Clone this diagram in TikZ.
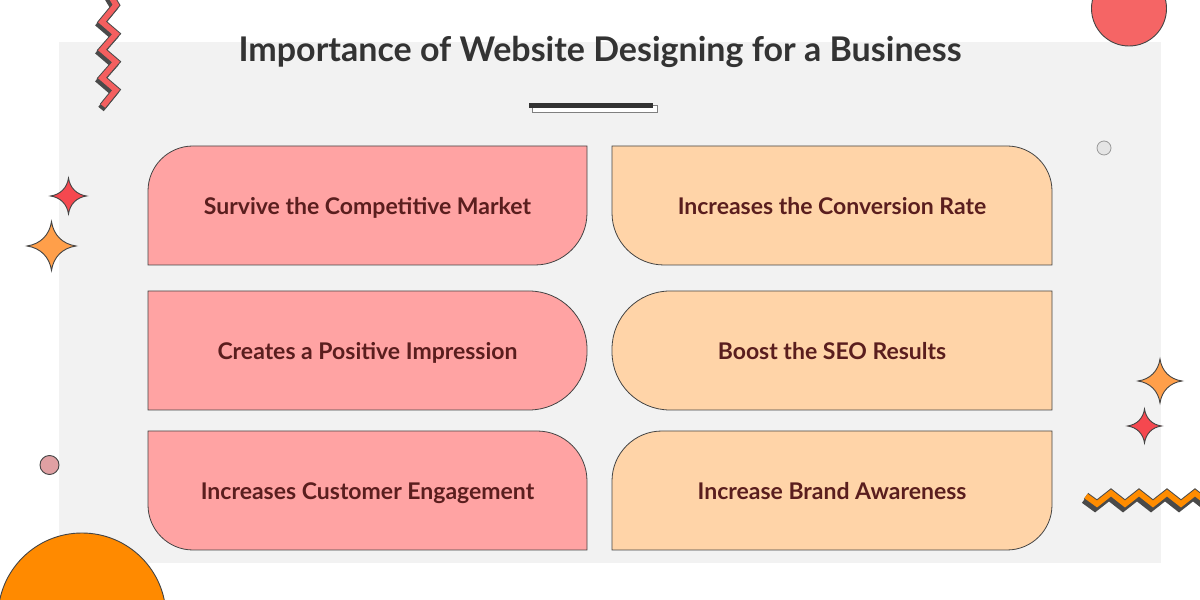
\documentclass[tikz,border=0pt]{standalone}
\usepackage{fontspec}
\setmainfont{Lato}
\definecolor{panel}{HTML}{F2F2F2}
\definecolor{pinkc}{HTML}{FFA3A3}
\definecolor{peachc}{HTML}{FFD4A8}
\definecolor{edge}{HTML}{444444}
\definecolor{txt}{HTML}{5A1E1E}
\definecolor{titlec}{HTML}{333333}
\definecolor{redz}{HTML}{F45F5F}
\definecolor{orz}{HTML}{FF8C00}
\definecolor{shad}{HTML}{4A4A4A}
\definecolor{starred}{HTML}{F5484F}
\definecolor{starorange}{HTML}{FF9F4A}
\definecolor{topcirc}{HTML}{F56565}
\definecolor{bigorange}{HTML}{FF8A00}
\definecolor{smallpink}{HTML}{E0A0A3}
\newcommand{\cardbox}[9]{%
  \draw[cardline,fill=#9] (#1+#5,#4) -- (#2-#6,#4)
    arc[start angle=90,end angle=0,radius=#6 pt] -- (#2,#3+#7)
    arc[start angle=0,end angle=-90,radius=#7 pt] -- (#1+#8,#3)
    arc[start angle=-90,end angle=-180,radius=#8 pt] -- (#1,#4-#5)
    arc[start angle=180,end angle=90,radius=#5 pt] -- cycle;}
\newcommand{\sparkle}[4]{%
  \draw[edge,line width=0.9pt,fill=#4] (#1,#2+#3)
    .. controls (#1+0.08*#3,#2+0.45*#3) and (#1+0.45*#3,#2+0.08*#3) .. (#1+#3,#2)
    .. controls (#1+0.45*#3,#2-0.08*#3) and (#1+0.08*#3,#2-0.45*#3) .. (#1,#2-#3)
    .. controls (#1-0.08*#3,#2-0.45*#3) and (#1-0.45*#3,#2-0.08*#3) .. (#1-#3,#2)
    .. controls (#1-0.45*#3,#2+0.08*#3) and (#1-0.08*#3,#2+0.45*#3) .. cycle;}
\begin{document}
\begin{tikzpicture}[x=1pt,y=1pt,
  cardline/.style={draw=edge,line width=0.8pt},
  cardtext/.style={text=txt,font=\fontsize{23}{27}\selectfont\bfseries,inner sep=0pt,anchor=base},
  zig/.style={line width=6pt,line join=miter,miter limit=10}]
\useasboundingbox (0,0) rectangle (1200,600);
\clip (0,0) rectangle (1200,600);
\fill[white] (0,0) rectangle (1200,600);
% panel
\fill[panel] (59,37) rectangle (1161,558);
% top right circle
\draw[edge,line width=0.9pt,fill=topcirc] (1129,591.5) circle[radius=37.5pt];
% small circles
\draw[draw=black!40,line width=0.8pt,fill=black!10] (1104,452) circle[radius=7pt];
\draw[edge,line width=0.9pt,fill=smallpink] (49.5,135) circle[radius=9.5pt];
% big orange circle
\draw[edge,line width=0.9pt,fill=bigorange] (82,-17) circle[radius=84pt];
% left zigzag
\draw[zig,shad,line width=7pt] ([shift={(-2,-3)}]107,610) -- ([shift={(-2,-3)}]116,595) -- ([shift={(-2,-3)}]102,578) -- ([shift={(-2,-3)}]116,566) -- ([shift={(-2,-3)}]102,550) -- ([shift={(-2,-3)}]116,538) -- ([shift={(-2,-3)}]102,522) -- ([shift={(-2,-3)}]116,510) -- ([shift={(-2,-3)}]103,494);
\draw[zig,shad,line width=7.5pt] (107,610) -- (116,595) -- (102,578) -- (116,566) -- (102,550) -- (116,538) -- (102,522) -- (116,510) -- (103,494);
\draw[zig,redz,line width=5.5pt] (107,610) -- (116,595) -- (102,578) -- (116,566) -- (102,550) -- (116,538) -- (102,522) -- (116,510) -- (103,494);
% right zigzag
\draw[zig,shad,line width=7pt] ([shift={(-2,-4)}]1086,104) -- ([shift={(-2,-4)}]1097,96) -- ([shift={(-2,-4)}]1111,107) -- ([shift={(-2,-4)}]1125,96) -- ([shift={(-2,-4)}]1139,107) -- ([shift={(-2,-4)}]1153,96) -- ([shift={(-2,-4)}]1167,107) -- ([shift={(-2,-4)}]1181,96) -- ([shift={(-2,-4)}]1195,107) -- ([shift={(-2,-4)}]1209,96);
\draw[zig,shad,line width=7.5pt] (1086,104) -- (1097,96) -- (1111,107) -- (1125,96) -- (1139,107) -- (1153,96) -- (1167,107) -- (1181,96) -- (1195,107) -- (1209,96);
\draw[zig,orz,line width=5.5pt] (1086,104) -- (1097,96) -- (1111,107) -- (1125,96) -- (1139,107) -- (1153,96) -- (1167,107) -- (1181,96) -- (1195,107) -- (1209,96);
% sparkles
\sparkle{68.5}{404}{18}{starred}
\sparkle{51.5}{354}{24.5}{starorange}
\sparkle{1160}{219}{22}{starorange}
\sparkle{1144.5}{174}{17}{starred}
% title
\node[text=titlec,font=\fontsize{34}{40}\selectfont\bfseries,inner sep=0pt,anchor=base] (title) at (600,538.5) {Importance of Website Designing for a Business};
% underline bar
\draw[draw=black!50,line width=0.8pt,fill=white] (532,488) rectangle (657,495);
\fill[titlec] (529,492) rectangle (653,497);
% cards
\cardbox{148}{587}{335}{454}{45}{0.01}{52}{0.01}{pinkc}
\cardbox{148}{587}{190}{309}{0.01}{58}{58}{0.01}{pinkc}
\cardbox{148}{587}{50}{169}{0.01}{50}{0.01}{45}{pinkc}
\cardbox{612}{1052}{335}{454}{0.01}{45}{0.01}{52}{peachc}
\cardbox{612}{1052}{190}{309}{58}{0.01}{0.01}{58}{peachc}
\cardbox{612}{1052}{50}{169}{50}{0.01}{45}{0.01}{peachc}
\node[cardtext] (t1) at (367.5,385.5) {Survive the Competitive Market};
\node[cardtext] (t2) at (367.5,240.5) {Creates a Positive Impression};
\node[cardtext] (t3) at (367.5,100.7) {Increases Customer Engagement};
\node[cardtext] (t4) at (832,385.5) {Increases the Conversion Rate};
\node[cardtext] (t5) at (832,240.5) {Boost the SEO Results};
\node[cardtext] (t6) at (832,100.7) {Increase Brand Awareness};
\end{tikzpicture}
\end{document}
